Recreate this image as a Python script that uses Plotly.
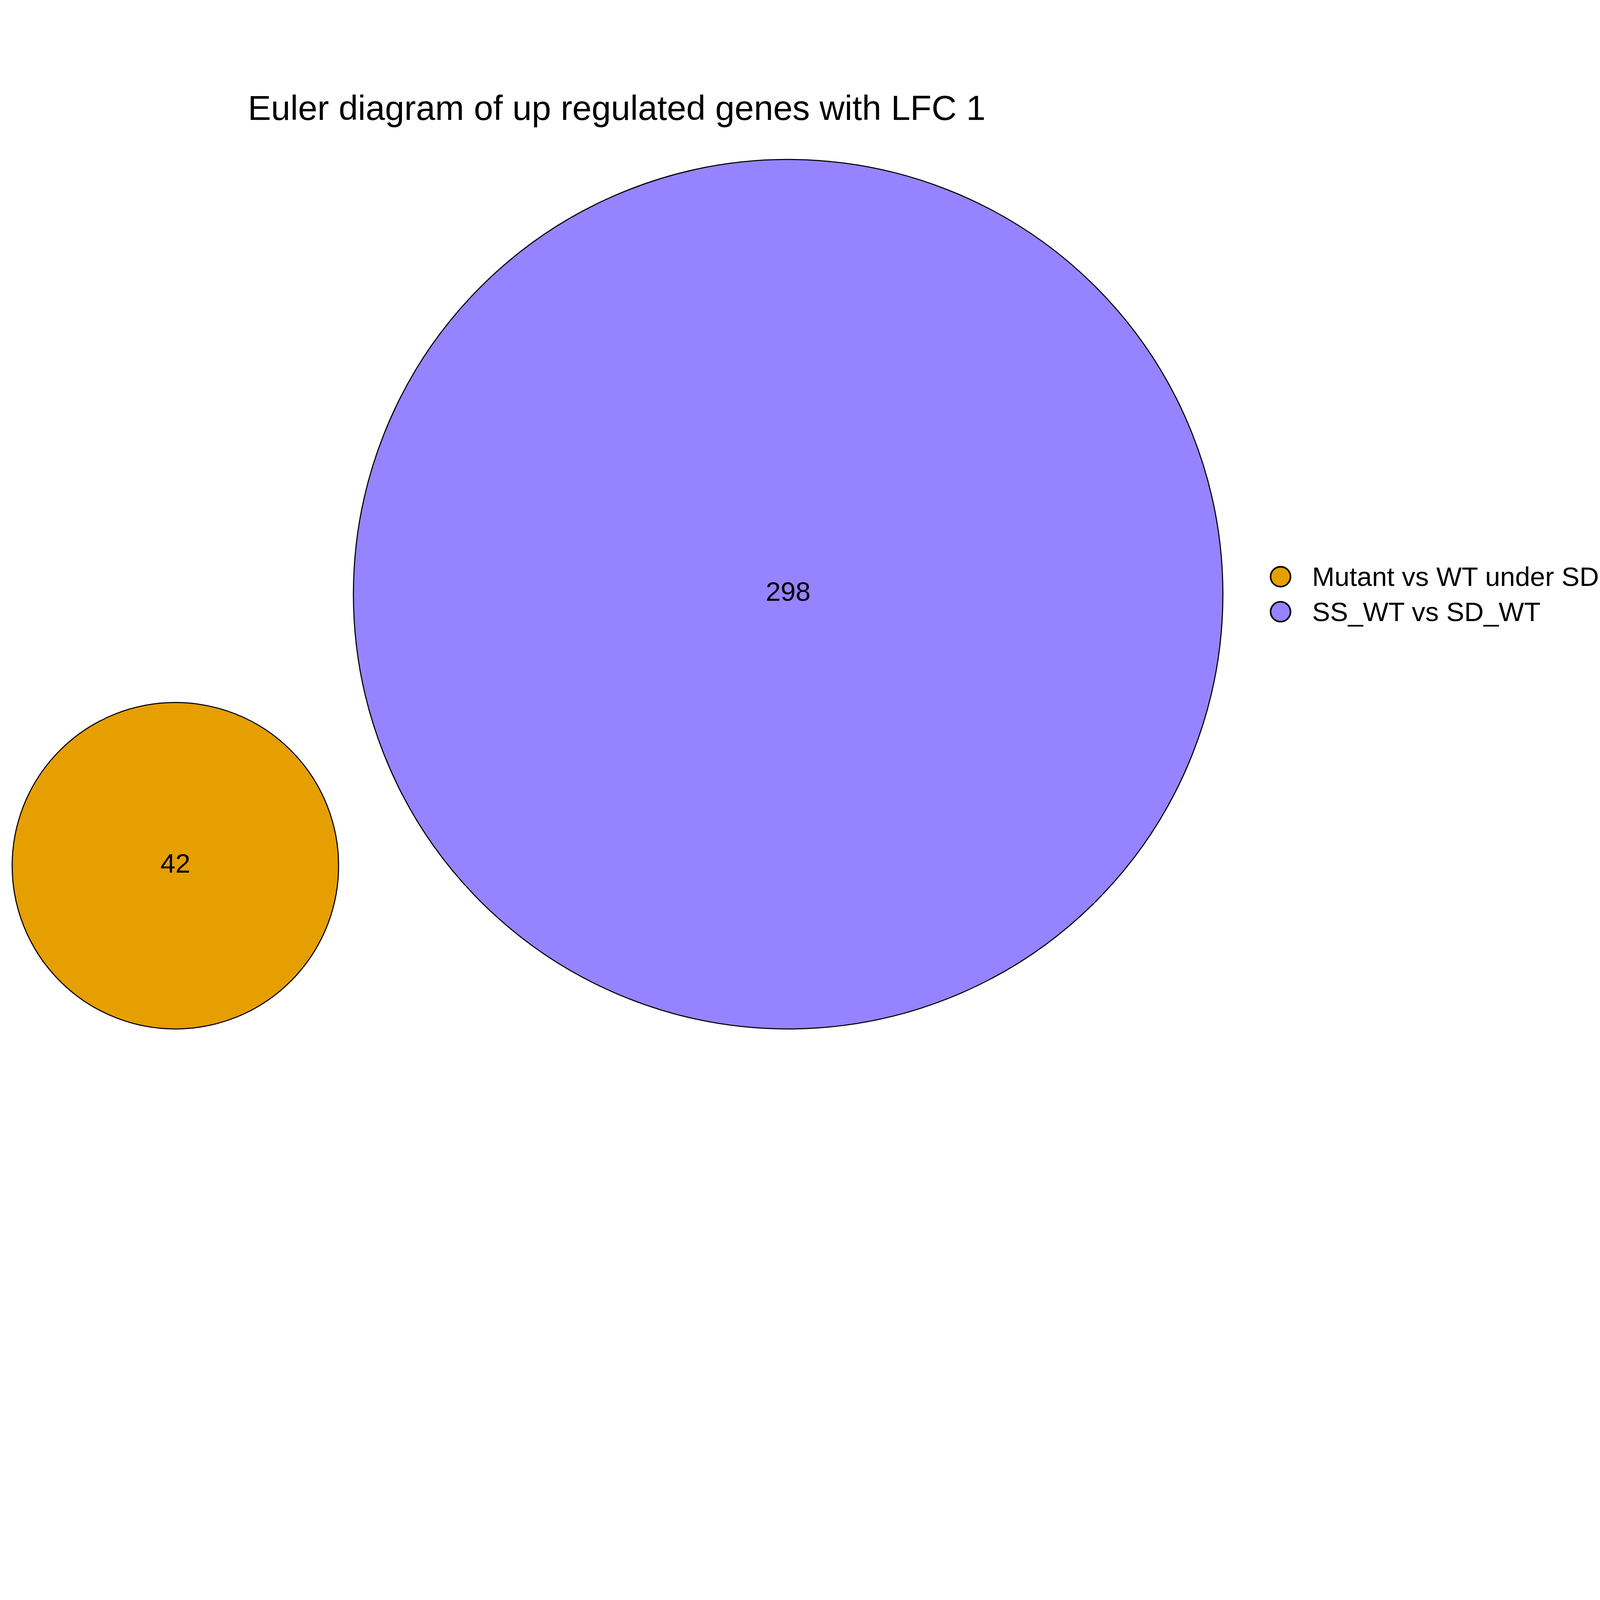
import math
import plotly.graph_objects as go

# Euler diagram data
set_names = ["Mutant vs WT under SD", "SS_WT vs SD_WT"]
set_counts = [42, 298]
set_colors = ["#E69F00", "#9683FF"]

title_text = "Euler diagram of up regulated genes with LFC 1"

# area proportional radii (units = sqrt(count))
radii = [math.sqrt(c) for c in set_counts]

# big set at the origin, the disjoint small set placed beside it
gap = 2.87
angle = math.radians(203.9)
dist = radii[0] + radii[1] + gap
centers = [(dist * math.cos(angle), dist * math.sin(angle)), (0.0, 0.0)]

W, H = 5940, 4200
FONT = "Liberation Sans, Arial, sans-serif"

fig = go.Figure()

shapes = []
for (cx, cy), r, col in zip(centers, radii, set_colors):
    shapes.append(dict(type="circle", xref="x", yref="y",
                       x0=cx - r, x1=cx + r, y0=cy - r, y1=cy + r,
                       fillcolor=col, line=dict(color="black", width=4),
                       layer="below"))

# counts in the middle of each circle
fig.add_trace(go.Scatter(
    x=[c[0] for c in centers], y=[c[1] for c in centers],
    mode="text", text=[str(c) for c in set_counts],
    textfont=dict(size=100, color="black", family=FONT),
    hoverinfo="skip", showlegend=False))

# hand made legend (plotly caps legend marker size)
legend_x = 4754 / W
legend_text_x = 4869 / W
legend_top = 1 - 2141 / H
row_gap = 130 / H
annotations = [dict(text=title_text, xref="paper", yref="paper",
                    x=918 / W, y=1 - 400 / H, xanchor="left", yanchor="middle",
                    showarrow=False, font=dict(size=129, color="black", family=FONT))]
for i, (name, col) in enumerate(zip(set_names, set_colors)):
    ky = legend_top - i * row_gap
    shapes.append(dict(type="circle", xref="paper", yref="paper",
                       xsizemode="pixel", ysizemode="pixel",
                       xanchor=legend_x, yanchor=ky,
                       x0=-37, x1=37, y0=-37, y1=37,
                       fillcolor=col, line=dict(color="black", width=6)))
    annotations.append(dict(text=name, xref="paper", yref="paper",
                            x=legend_text_x, y=ky, xanchor="left", yanchor="middle",
                            showarrow=False,
                            font=dict(size=100, color="black", family=FONT)))

px_per_unit = 1614 / radii[1]
big_px = (2926, 2206)
fig.update_layout(
    width=W, height=H,
    margin=dict(l=0, r=0, t=0, b=0),
    paper_bgcolor="white", plot_bgcolor="white",
    shapes=shapes, annotations=annotations,
    xaxis=dict(visible=False, range=[-big_px[0] / px_per_unit, (W - big_px[0]) / px_per_unit]),
    yaxis=dict(visible=False, range=[-(H - big_px[1]) / px_per_unit, big_px[1] / px_per_unit]),
    showlegend=False,
)

# the browser window can be smaller than the figure: scale the page to fit
fit_js = (
    "var gd = document.getElementById('{plot_id}');"
    "document.body.style.margin = '0';"
    "document.body.style.overflow = 'hidden';"
    "var s = Math.min(window.innerWidth / %d, window.innerHeight / %d, 1);"
    "gd.style.transformOrigin = '0 0';"
    "gd.style.transform = 'scale(' + s + ')';" % (W, H)
)
fig.write_html("out.html", post_script=fit_js, config={"displayModeBar": False})
